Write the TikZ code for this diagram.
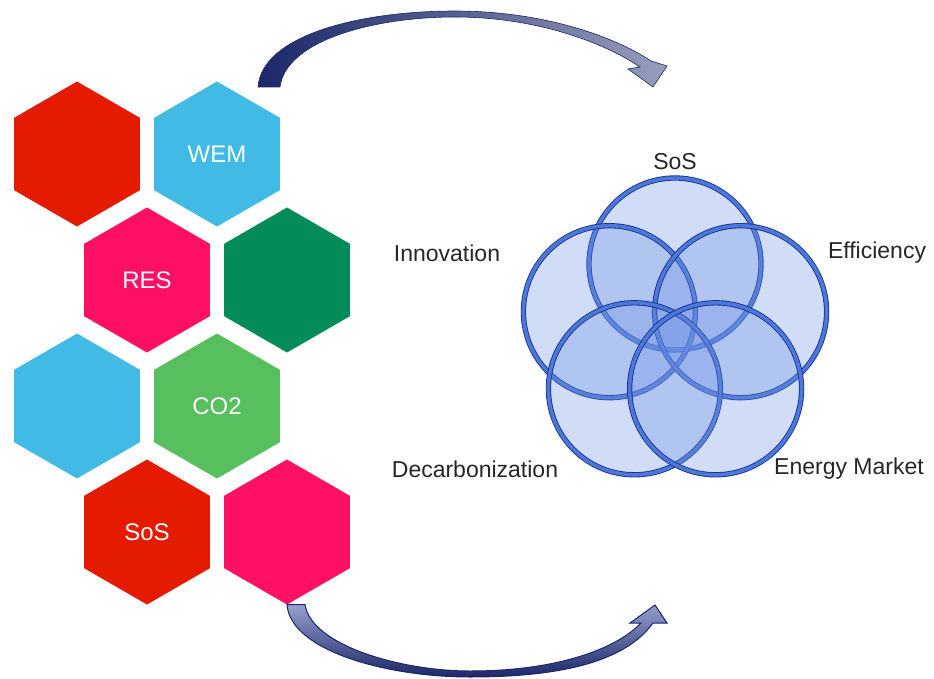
\documentclass[tikz,border=0pt]{standalone}
\usepackage{fontspec}
\setmainfont{Liberation Sans}
\usetikzlibrary{shapes.geometric, positioning}
\definecolor{hexred}{HTML}{E41B00}
\definecolor{hexblue}{HTML}{42BAE6}
\definecolor{hexpink}{HTML}{FE1065}
\definecolor{hexgreen}{HTML}{038C59}
\definecolor{hexlime}{HTML}{58BF5F}
\definecolor{arrnavy}{HTML}{1B2769}
\definecolor{arrsoft}{HTML}{98A0CE}
\definecolor{vennfill}{HTML}{6F93E6}
\definecolor{venndark}{HTML}{1E3486}
\definecolor{vennband}{HTML}{4A78DE}
\tikzset{
  hexcell/.style={
    regular polygon, regular polygon sides=6, shape border rotate=30,
    minimum size=145pt, inner sep=0pt, outer sep=0pt,
    fill=#1, text=white, font=\fontsize{24}{28}\selectfont
  },
  venncirc/.style={
    circle, minimum size=172pt, inner sep=0pt, outer sep=0pt,
    fill=vennfill, fill opacity=0.32,
    draw=venndark, line width=0.9pt, double=vennband, double distance=3.5pt
  },
  vennlabel/.style={text=black!85, font=\fontsize{23}{27}\selectfont},
  toparrow/.style={left color=arrnavy, right color=arrnavy!45, draw=arrnavy, line width=0.6pt},
  botarrow/.style={top color=arrsoft, bottom color=arrnavy, draw=arrnavy, line width=1pt},
}

\begin{document}
\begin{tikzpicture}[x=1pt, y=-1pt]
  \useasboundingbox (0,0) rectangle (934,679);

  % honeycomb
  \node[hexcell=hexred]   (hexA) at (77,154)  {};
  \node[hexcell=hexblue]  (wem)  at (217,154) {WEM};
  \node[hexcell=hexpink]  (res)  at (147,280) {RES};
  \node[hexcell=hexgreen] (hexB) at (287,280) {};
  \node[hexcell=hexblue]  (hexC) at (77,406)  {};
  \node[hexcell=hexlime]  (co2)  at (217,406) {CO2};
  \node[hexcell=hexred]   (sosh) at (147,532) {SoS};
  \node[hexcell=hexpink]  (hexD) at (287,532) {};

  % venn of five goals
  \node[venncirc] (csos) at (675,264)     {};
  \node[venncirc] (cinn) at (609.4,311.7) {};
  \node[venncirc] (ceff) at (740.6,311.7) {};
  \node[venncirc] (cdec) at (634.4,388.8) {};
  \node[venncirc] (cmkt) at (715.6,388.8) {};

  \node[vennlabel] (lsos) at (675,162) {SoS};
  \node[vennlabel] (linn) at (447,253) {Innovation};
  \node[vennlabel] (leff) at (877,253) {Efficiency};
  \node[vennlabel] (ldec) at (475,469) {Decarbonization};
  \node[vennlabel] (lmkt) at (849,469) {Energy Market};

  % curved block arrows
  \draw[toparrow] (258,87) .. controls (262,35) and (360,11) .. (455,11)
       .. controls (540,11) and (612,35) .. (651,61)
       -- (667,66) -- (653,87) -- (628,69) -- (640,67)
       .. controls (603,42) and (535,17) .. (455,17)
       .. controls (375,17) and (286,40) .. (280,87) -- cycle;

  \draw[botarrow] (hexD.south) -- ++(18,0)
       .. controls (311,645) and (400,671) .. (470,671)
       .. controls (555,671) and (615,650) .. (641,623)
       -- (630,623) -- (655,605) -- (667,623) -- (653,623)
       .. controls (625,662) and (560,677) .. (470,677)
       .. controls (385,677) and (290,650) .. (hexD.south) -- cycle;
\end{tikzpicture}
\end{document}
